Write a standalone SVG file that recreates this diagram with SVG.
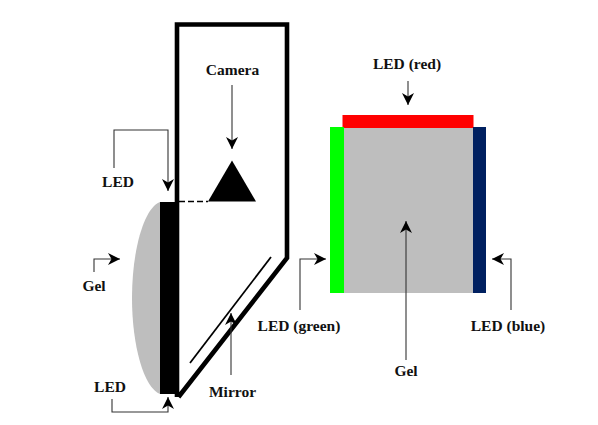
<svg xmlns="http://www.w3.org/2000/svg" width="598" height="425" viewBox="0 0 598 425">
<style>
text{font-family:"Liberation Serif","Times New Roman",serif;font-weight:bold;font-size:15.5px;fill:#111;text-anchor:middle}
.c{fill:none;stroke:#333;stroke-width:1.1}
</style>
<defs>
<marker id="a" markerUnits="userSpaceOnUse" markerWidth="13" markerHeight="13" refX="12" refY="6.500" orient="auto"><path d="M0 .5L12 6.500L0 12.500L3.500 6.500Z" fill="#000"/></marker>
</defs>
<rect width="598" height="425" fill="#fff"/>
<g id="gel-side"><path d="M160 202C144 208 132 250 132 298C132 346 144 388 160 394Z" fill="#bebebe"/></g>
<g id="housing"><path d="M177 397V24.500H287V258L178.500 397" fill="none" stroke="#000" stroke-width="4.600"/></g>
<g id="led-side"><rect x="160" y="202" width="19" height="192" fill="#000"/></g>
<g id="camera"><path d="M232 160.500L256 201.500H208Z" fill="#000"/><path d="M179 201.500H208" fill="none" stroke="#000" stroke-width="1.500" stroke-dasharray="6 3"/><text x="232.500" y="75">Camera</text></g>
<g id="mirror"><path d="M190 363L271 257" fill="none" stroke="#000" stroke-width="1.800"/><text x="232.500" y="397">Mirror</text></g>
<g id="gel-front"><rect x="344" y="128" width="129" height="165" fill="#bebebe"/></g>
<g id="led-red"><rect x="342.500" y="115" width="131" height="13" fill="#f00"/><text x="407" y="69">LED (red)</text></g>
<g id="led-green"><rect x="330" y="127" width="14" height="166" fill="#0f0"/><text x="299" y="331">LED (green)</text></g>
<g id="led-blue"><rect x="473" y="127" width="13" height="166" fill="#002060"/><text x="508" y="331">LED (blue)</text></g>
<g id="label-led-top"><text x="118" y="187">LED</text></g>
<g id="label-led-bottom"><text x="110" y="392">LED</text></g>
<g id="label-gel-side"><text x="94" y="291">Gel</text></g>
<g id="label-gel-front"><text x="406" y="376">Gel</text></g>
<g id="connectors">
<path class="c" marker-end="url(#a)" d="M232 85V149"/>
<path class="c" marker-end="url(#a)" d="M114 168V130H168V191"/>
<path class="c" marker-end="url(#a)" d="M94 272V259H120"/>
<path class="c" marker-end="url(#a)" d="M112 399V412H168V397"/>
<path class="c" marker-end="url(#a)" d="M231 375V313"/>
<path class="c" marker-end="url(#a)" d="M408 81V105"/>
<path class="c" marker-end="url(#a)" d="M300 310V259H326"/>
<path class="c" marker-end="url(#a)" d="M511 310V259H492"/>
<path class="c" marker-end="url(#a)" d="M406 360V221"/>
</g>
</svg>
